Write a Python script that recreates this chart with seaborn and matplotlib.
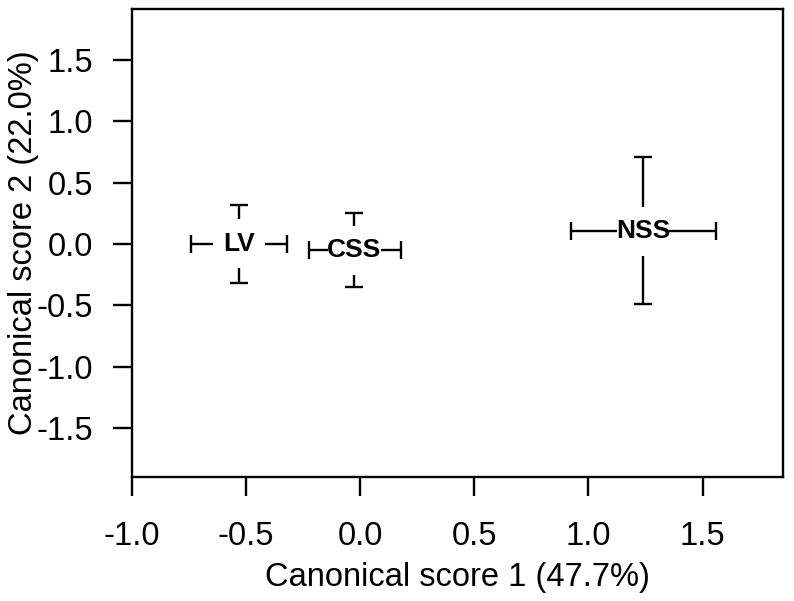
import numpy as np
import matplotlib
matplotlib.use("Agg")
from matplotlib import pyplot as plt
import seaborn as sns

# group means and interval limits
groups = ["LV", "CSS", "NSS"]
x_mean = [-0.53, -0.025, 1.24]
y_mean = [0.0, -0.05, 0.105]
x_low = [-0.74, -0.225, 0.925]
x_high = [-0.32, 0.18, 1.56]
y_low = [-0.32, -0.35, -0.49]
y_high = [0.32, 0.255, 0.705]

xticks = [-1.0, -0.5, 0.0, 0.5, 1.0, 1.5]
yticks = [-1.5, -1.0, -0.5, 0.0, 0.5, 1.0, 1.5]

sns.set_theme(style="ticks")
plt.rcParams['font.family'] = ['Liberation Sans', 'DejaVu Sans']

fig = plt.figure(figsize=(7.94, 6.01), dpi=100)
ax = fig.add_axes([0.1662, 0.2063, 0.8198, 0.7787])

gx, gy = 0.115, 0.2      # gap left around each label
lw = 1.7
for g, xm, ym, xl, xh, yl, yh in zip(groups, x_mean, y_mean, x_low, x_high, y_low, y_high):
    ax.plot([xl, xm - gx], [ym, ym], color="black", lw=lw, solid_capstyle="butt")
    ax.plot([xm + gx, xh], [ym, ym], color="black", lw=lw, solid_capstyle="butt")
    ax.plot([xm, xm], [yl, ym - gy], color="black", lw=lw, solid_capstyle="butt")
    ax.plot([xm, xm], [ym + gy, yh], color="black", lw=lw, solid_capstyle="butt")
    ax.plot([xl, xh], [ym, ym], ls="none", marker="|", ms=13, mew=lw, color="black")
    ax.plot([xm, xm], [yl, yh], ls="none", marker="_", ms=13, mew=lw, color="black")
    ax.text(xm, ym, g, ha="center", va="center", fontsize=19, fontweight="bold", color="black")

ax.set_xlim(-1.0, 1.852)
ax.set_ylim(-1.9, 1.915)
ax.set_xticks(xticks)
ax.set_yticks(yticks)
ax.set_xticklabels([f"{v:.1f}" for v in xticks])
ax.set_yticklabels([f"{v:.1f}" for v in yticks])
ax.tick_params(axis="both", direction="out", length=14, width=lw, labelsize=23.5, color="black", labelcolor="black")
ax.tick_params(axis="x", pad=18)
ax.tick_params(axis="y", pad=14)
for s in ax.spines.values():
    s.set_visible(True)
    s.set_linewidth(lw)
    s.set_color("black")
ax.set_facecolor("white")
ax.set_xlabel("Canonical score 1 (47.7%)", fontsize=23.5, color="black", labelpad=7)
ax.set_ylabel("Canonical score 2 (22.0%)", fontsize=23.5, color="black", labelpad=-2)

fig.savefig("out.png", dpi=100, facecolor="white")
